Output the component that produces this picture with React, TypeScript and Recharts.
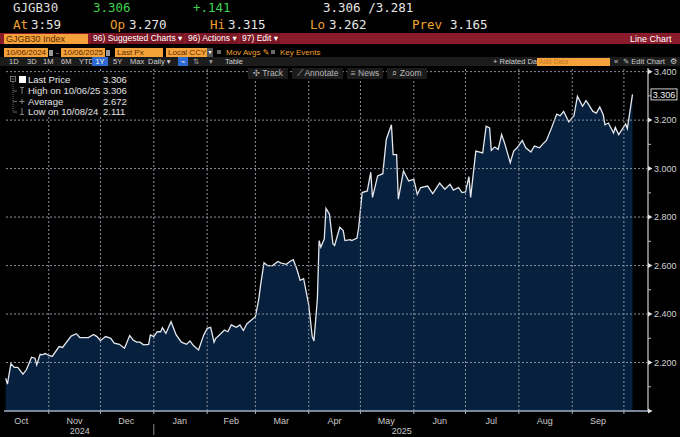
import React from 'react';
import { AreaChart, Area, XAxis, YAxis, ReferenceLine } from 'recharts';

// ---------- data ----------
const START_DATE = '2024-10-07';
// trading days counted from START_DATE
const DAY_OFFSETS = [
  0, 1, 3, 5, 7, 10, 12, 15, 17, 18,
  20, 21, 23, 25, 27, 31, 33, 38, 41, 43,
  48, 51, 53, 55, 58, 61, 63, 66, 69, 72,
  74, 76, 78, 80, 83, 84, 86, 88, 90, 91,
  93, 96, 99, 102, 105, 107, 109, 112, 115, 117,
  119, 121, 122, 125, 127, 129, 131, 133, 134, 136,
  138, 140, 142, 145, 147, 148, 150, 152, 155, 158,
  160, 163, 165, 167, 169, 171, 173, 176, 178, 179,
  181, 182, 183, 185, 186, 188, 190, 191, 194, 196,
  197, 200, 201, 204, 205, 207, 210, 212, 213, 216,
  219, 221, 224, 225, 227, 228, 231, 234, 237, 239,
  241, 245, 248, 252, 255, 258, 260, 263, 265, 267,
  269, 270, 273, 277, 279, 281, 282, 284, 286, 288,
  290, 293, 295, 297, 300, 302, 305, 307, 310, 312,
  314, 317, 320, 322, 324, 327, 330, 332, 335, 337,
  338, 341, 343, 345, 347, 348, 350, 353, 354, 356,
  360, 361, 364,
];
const YIELDS = [
  2.135, 2.111, 2.195, 2.18, 2.18, 2.152, 2.17, 2.222, 2.218, 2.19,
  2.234, 2.232, 2.237, 2.229, 2.225, 2.266, 2.262, 2.309, 2.319, 2.303,
  2.303, 2.316, 2.307, 2.29, 2.307, 2.3, 2.28, 2.275, 2.259, 2.311,
  2.293, 2.284, 2.284, 2.273, 2.275, 2.314, 2.307, 2.327, 2.327, 2.344,
  2.32, 2.368, 2.314, 2.284, 2.275, 2.289, 2.27, 2.252, 2.314, 2.341,
  2.345, 2.284, 2.3, 2.32, 2.334, 2.327, 2.355, 2.348, 2.345, 2.355,
  2.332, 2.359, 2.371, 2.389, 2.464, 2.518, 2.612, 2.6, 2.6, 2.617,
  2.61, 2.605, 2.617, 2.624, 2.587, 2.539, 2.546, 2.437, 2.307, 2.289,
  2.464, 2.703, 2.676, 2.71, 2.836, 2.812, 2.69, 2.683, 2.758, 2.744,
  2.703, 2.707, 2.703, 2.713, 2.758, 2.901, 2.908, 2.985, 2.881, 2.97,
  2.979, 3.12, 3.181, 3.058, 3.058, 2.874, 2.99, 2.949, 2.956, 2.894,
  2.922, 2.928, 2.897, 2.94, 2.915, 2.935, 2.911, 2.922, 2.901, 2.904,
  2.967, 2.881, 3.072, 3.065, 3.175, 3.168, 3.075, 3.089, 3.079, 3.14,
  3.099, 3.024, 3.072, 3.086, 3.116, 3.086, 3.068, 3.093, 3.086, 3.102,
  3.116, 3.168, 3.225, 3.218, 3.236, 3.193, 3.218, 3.298, 3.257, 3.28,
  3.27, 3.236, 3.229, 3.254, 3.222, 3.181, 3.188, 3.147, 3.17, 3.14,
  3.184, 3.165, 3.306,
];

const MONTH_STARTS = [
  '2024-11-01', '2024-12-01', '2025-01-01', '2025-02-01', '2025-03-01', '2025-04-01',
  '2025-05-01', '2025-06-01', '2025-07-01', '2025-08-01', '2025-09-01', '2025-10-01',
];
const MONTH_LABELS = ['Oct', 'Nov', 'Dec', 'Jan', 'Feb', 'Mar', 'Apr', 'May', 'Jun', 'Jul', 'Aug', 'Sep'];
const MONTH_LABEL_DATES = [
  '2024-10-16', '2024-11-16', '2024-12-16', '2025-01-16', '2025-02-15', '2025-03-16',
  '2025-04-16', '2025-05-16', '2025-06-16', '2025-07-16', '2025-08-16', '2025-09-16',
];
const YEAR_LABELS = ['2024', '2025'];
const YEAR_LABEL_DATES = ['2024-11-19', '2025-05-25'];
const X_DOMAIN_DATES = ['2024-10-06', '2025-10-15'];

const Y_DOMAIN = [2.0, 3.415];
const Y_MAJOR = [2.2, 2.4, 2.6, 2.8, 3.0, 3.2, 3.4];
const Y_MINOR = [2.1, 2.3, 2.5, 2.7, 2.9, 3.1, 3.3];
const Y_BASE = 2.0;
const LAST_PRICE = 3.306;

// ---------- helpers ----------
const DAY = 86400000;
const ts = (s: string) => Date.parse(s + 'T00:00:00Z');
const startTs = ts(START_DATE);
const data = DAY_OFFSETS.map((d, i) => ({ t: startTs + d * DAY, v: YIELDS[i] }));

const monthStartTs = MONTH_STARTS.map(ts);
const monthStartSet = new Set(monthStartTs);
const monthLabelMap = new Map(MONTH_LABEL_DATES.map((d, i) => [ts(d), MONTH_LABELS[i]]));
const yearLabelMap = new Map(YEAR_LABEL_DATES.map((d, i) => [ts(d), YEAR_LABELS[i]]));
const xTicks = [...monthStartTs, ...monthLabelMap.keys(), ...yearLabelMap.keys()].sort((a, b) => a - b);
const yTicks = [Y_BASE, ...Y_MINOR, ...Y_MAJOR, LAST_PRICE].sort((a, b) => a - b);
const xDomain = X_DOMAIN_DATES.map(ts);

const mono = "'DejaVu Sans Mono', 'Liberation Mono', monospace";
const sans = "'Liberation Sans', Arial, 'DejaVu Sans', sans-serif";
const GRID = '#8a929e';
const MARGIN = { top: 68, right: 0, bottom: 0, left: 4 };

function XTick(props: any) {
  const { x, y, payload } = props;
  const v = payload.value;
  if (monthStartSet.has(v)) {
    const isJan = new Date(v).getUTCMonth() === 0;
    return (
      <g>
        <line x1={x} x2={x} y1={y} y2={y + 3} stroke="#a8b2c0" strokeWidth={1} />
        {isJan && <line x1={x} x2={x} y1={y + 13} y2={y + 24} stroke="#8a8a8a" strokeWidth={1} />}
      </g>
    );
  }
  if (monthLabelMap.has(v)) {
    return (
      <text x={x} y={y + 12.5} textAnchor="middle" fontSize={9} fontFamily={sans} fill="#c9c9c9">
        {monthLabelMap.get(v)}
      </text>
    );
  }
  if (yearLabelMap.has(v)) {
    return (
      <text x={x} y={y + 22.5} textAnchor="middle" fontSize={9} fontFamily={sans} fill="#c9c9c9">
        {yearLabelMap.get(v)}
      </text>
    );
  }
  return null;
}

function YTick(props: any) {
  const { x, y, payload } = props;
  const v = payload.value as number;
  const isMajor = Y_MAJOR.some((m) => Math.abs(m - v) < 1e-9);
  const isMinor = Y_MINOR.some((m) => Math.abs(m - v) < 1e-9);
  if (Math.abs(v - LAST_PRICE) < 1e-9) {
    return (
      <g>
        <rect x={x + 3} y={y - 5.5} width={26} height={11} fill="#000" stroke="#e6e6e6" strokeWidth={0.9} />
        <text x={x + 16} y={y + 3.2} textAnchor="middle" fontSize={9} fontFamily={sans} fill="#f2f2f2">
          {LAST_PRICE.toFixed(3)}
        </text>
      </g>
    );
  }
  if (isMajor) {
    return (
      <g>
        <polygon points={`${x},${y - 2.5} ${x + 4.5},${y} ${x},${y + 2.5}`} fill="#e0e0e0" />
        <text x={x + 6} y={y + 3.2} fontSize={9} fontFamily={sans} fill="#d2d2d2">
          {v.toFixed(3)}
        </text>
      </g>
    );
  }
  if (isMinor) {
    return <line x1={x} x2={x + 3} y1={y} y2={y} stroke="#bdbdbd" strokeWidth={1} />;
  }
  return <polygon points={`${x},${y - 2.5} ${x + 4.5},${y} ${x},${y + 2.5}`} fill="#e0e0e0" />;
}

function Txt(p: { l: number; t: number; c: string; s: number; f?: string; children: React.ReactNode; w?: number }) {
  return (
    <div
      style={{
        position: 'absolute',
        left: p.l,
        top: p.t,
        color: p.c,
        fontSize: p.s,
        fontFamily: p.f || sans,
        lineHeight: 1,
        whiteSpace: 'pre',
        fontWeight: p.w || 400,
      }}
    >
      {p.children}
    </div>
  );
}

function Box(p: { l: number; t: number; w: number; h: number; bg: string; children?: React.ReactNode; color?: string; s?: number; border?: string; center?: boolean }) {
  return (
    <div
      style={{
        position: 'absolute',
        left: p.l,
        top: p.t,
        width: p.w,
        height: p.h,
        background: p.bg,
        color: p.color || '#fff',
        fontSize: p.s || 8,
        fontFamily: sans,
        lineHeight: p.h + 'px',
        whiteSpace: 'pre',
        paddingLeft: p.center ? 0 : 2,
        boxSizing: 'border-box',
        textAlign: p.center ? 'center' : 'left',
        border: p.border,
      }}
    >
      {p.children}
    </div>
  );
}

const ORANGE = '#f5a23a';
const ORANGE_TXT = '#f0a030';
const BOX_TXT = '#5a2a00';
const RED = '#8a1b2b';
const GREEN = '#3fd253';
const WHITE = '#e6e6e6';

export default function App() {
  return (
    <div style={{ position: 'fixed', left: 0, top: 0, width: 680, height: 437, background: '#000', overflow: 'hidden' }}>
      {/* base chart: filled area + axes */}
      <div style={{ position: 'absolute', left: 0, top: 0 }}>
        <AreaChart width={680} height={437} data={data} margin={MARGIN}>
          <XAxis
            dataKey="t"
            type="number"
            domain={xDomain}
            ticks={xTicks}
            interval={0}
            tick={<XTick />}
            tickLine={false}
            tickSize={0}
            tickMargin={0}
            height={26}
            axisLine={{ stroke: '#9fb0c6', strokeWidth: 1.5 }}
            allowDataOverflow
          />
          <YAxis
            orientation="right"
            type="number"
            domain={Y_DOMAIN}
            ticks={yTicks}
            interval={0}
            tick={<YTick />}
            tickLine={false}
            tickSize={0}
            tickMargin={0}
            width={32}
            axisLine={{ stroke: '#cfcfcf', strokeWidth: 1.2 }}
            allowDataOverflow
          />
          <Area
            type="linear"
            dataKey="v"
            stroke="none"
            fill="#07203e"
            fillOpacity={1}
            dot={false}
            activeDot={false}
            isAnimationActive={false}
          />
        </AreaChart>
      </div>

      {/* overlay chart: dotted grid above the fill, plus the price line */}
      <div style={{ position: 'absolute', left: 0, top: 0 }}>
        <AreaChart width={680} height={437} data={data} margin={MARGIN}>
          <XAxis
            dataKey="t"
            type="number"
            domain={xDomain}
            ticks={xTicks}
            interval={0}
            tick={false}
            tickLine={false}
            tickSize={0}
            axisLine={false}
            height={26}
            allowDataOverflow
          />
          <YAxis
            orientation="right"
            type="number"
            domain={Y_DOMAIN}
            ticks={yTicks}
            interval={0}
            tick={false}
            tickLine={false}
            tickSize={0}
            axisLine={false}
            width={32}
            allowDataOverflow
          />
          {monthStartTs.map((t) => (
            <ReferenceLine key={'v' + t} x={t} stroke={GRID} strokeDasharray="2 2" strokeWidth={1} ifOverflow="visible" />
          ))}
          {Y_MAJOR.map((y) => (
            <ReferenceLine key={'h' + y} y={y} stroke={GRID} strokeDasharray="2 2" strokeWidth={1} ifOverflow="visible" />
          ))}
          <Area
            type="linear"
            dataKey="v"
            stroke="#e4e7ec"
            strokeWidth={1.3}
            fill="none"
            fillOpacity={0}
            dot={false}
            activeDot={false}
            isAnimationActive={false}
          />
        </AreaChart>
      </div>

      {/* Row 1 */}
      <Txt l={13} t={2} c="#dedede" s={12.5} f={mono}>GJGB30</Txt>
      <Txt l={93} t={2} c={GREEN} s={12.5} f={mono}>3.306</Txt>
      <Txt l={193} t={2} c={GREEN} s={12.5} f={mono}>+.141</Txt>
      <Txt l={323} t={2} c={WHITE} s={12.5} f={mono}>3.306 /3.281</Txt>
      {/* Row 2 */}
      <Txt l={13} t={19} c={ORANGE_TXT} s={12.5} f={mono}>At</Txt>
      <Txt l={31} t={19} c={WHITE} s={12.5} f={mono}>3:59</Txt>
      <Txt l={110} t={19} c={ORANGE_TXT} s={12.5} f={mono}>Op</Txt>
      <Txt l={129} t={19} c={WHITE} s={12.5} f={mono}>3.270</Txt>
      <Txt l={210} t={19} c={ORANGE_TXT} s={12.5} f={mono}>Hi</Txt>
      <Txt l={228} t={19} c={WHITE} s={12.5} f={mono}>3.315</Txt>
      <Txt l={310} t={19} c={ORANGE_TXT} s={12.5} f={mono}>Lo</Txt>
      <Txt l={329} t={19} c={WHITE} s={12.5} f={mono}>3.262</Txt>
      <Txt l={412} t={19} c={ORANGE_TXT} s={12.5} f={mono}>Prev</Txt>
      <Txt l={450} t={19} c={WHITE} s={12.5} f={mono}>3.165</Txt>

      {/* Red bar */}
      <div style={{ position: 'absolute', left: 0, top: 33, width: 680, height: 11, background: RED }} />
      <Box l={4} t={34} w={84} h={10} bg={ORANGE} color={BOX_TXT} s={9}>GJGB30 Index</Box>
      <Box l={91} t={33} w={93} h={11} bg="#7a1524" s={8.5}>96) Suggested Charts ▾</Box>
      <Box l={186} t={33} w={52} h={11} bg="#7a1524" s={8.5}>96) Actions ▾</Box>
      <Box l={240} t={33} w={40} h={11} bg="#7a1524" s={8.5}>97) Edit ▾</Box>
      <Txt l={630} t={34.5} c="#fff" s={9}>Line Chart</Txt>

      {/* Row 4 */}
      <Box l={4} t={48} w={44} h={9} bg={ORANGE} color={BOX_TXT} s={8}>10/06/2024</Box>
      <Box l={49} t={49.5} w={4} h={6} bg="#9a9a9a" />
      <Txt l={56} t={48.5} c="#ccc" s={8}>-</Txt>
      <Box l={61} t={48} w={44} h={9} bg={ORANGE} color={BOX_TXT} s={8}>10/06/2025</Box>
      <Box l={106} t={49.5} w={4} h={6} bg="#9a9a9a" />
      <Box l={115} t={48} w={48} h={9} bg={ORANGE} color={BOX_TXT} s={8}>Last Px</Box>
      <Box l={166} t={48} w={41} h={9} bg={ORANGE} color={BOX_TXT} s={8}>Local CCY</Box>
      <Box l={207} t={48} w={6} h={9} bg="#555" s={6} center>▾</Box>
      <Box l={217} t={50} w={4} h={4} bg="#6a6a6a" />
      <Txt l={226} t={49} c={ORANGE_TXT} s={8}>Mov Avgs ✎</Txt>
      <Box l={271} t={50} w={4} h={4} bg="#6a6a6a" />
      <Txt l={280} t={49} c={ORANGE_TXT} s={8}>Key Events</Txt>

      {/* Row 5 */}
      <div style={{ position: 'absolute', left: 0, top: 57, width: 680, height: 9, background: '#1c1c1c' }} />
      <Txt l={9} t={58} c="#cfcfcf" s={7.5}>1D</Txt>
      <Txt l={27} t={58} c="#cfcfcf" s={7.5}>3D</Txt>
      <Txt l={43} t={58} c="#cfcfcf" s={7.5}>1M</Txt>
      <Txt l={61} t={58} c="#cfcfcf" s={7.5}>6M</Txt>
      <Txt l={79} t={58} c="#cfcfcf" s={7.5}>YTD</Txt>
      <Box l={92} t={57} w={16} h={9} bg="#2f6ad0" s={7.5} center>1Y</Box>
      <Txt l={113} t={58} c="#cfcfcf" s={7.5}>5Y</Txt>
      <Txt l={130} t={58} c="#cfcfcf" s={7.5}>Max</Txt>
      <Txt l={148} t={58} c="#cfcfcf" s={7.5}>Daily ▾</Txt>
      <Box l={178} t={57} w={10} h={9} bg="#2f6ad0" s={7} center>⌁</Box>
      <Txt l={193} t={58} c="#9a9a9a" s={7.5}>⇅</Txt>
      <Txt l={209} t={58} c="#9a9a9a" s={7.5}>▾</Txt>
      <Txt l={225} t={58} c="#cfcfcf" s={7.5}>Table</Txt>
      <Txt l={493} t={58} c="#cfcfcf" s={7.5}>+ Related Dat</Txt>
      <Box l={537} t={57.5} w={73} h={8} bg={ORANGE} color="#c77a20" s={7}>Add Data</Box>
      <Txt l={614} t={58} c="#cfcfcf" s={7.5}>«</Txt>
      <Txt l={623} t={58} c="#cfcfcf" s={7.5}>✎ Edit Chart</Txt>
      <Txt l={670} t={57.5} c="#cfcfcf" s={8}>⚙</Txt>

      {/* Chart toolbar */}
      <Box l={248} t={68} w={40} h={11} bg="#1b1b1b" color="#b8b8b8" s={8.5} center>✣ Track</Box>
      <Box l={292} t={68} w={51} h={11} bg="#1b1b1b" color="#b8b8b8" s={8.5} center>⟋ Annotate</Box>
      <Box l={347} t={68} w={36} h={11} bg="#1b1b1b" color="#b8b8b8" s={8.5} center>≡ News</Box>
      <Box l={387} t={68} w={40} h={11} bg="#1b1b1b" color="#b8b8b8" s={8.5} center>⌕ Zoom</Box>

      {/* Legend */}
      <div style={{ position: 'absolute', left: 9, top: 73, width: 121, height: 44, background: '#050505' }}>
        <svg width={121} height={44} style={{ position: 'absolute', left: 0, top: 0 }}>
          <rect x={1.5} y={3.5} width={5} height={5} fill="none" stroke="#8a8a8a" strokeWidth={0.8} />
          <line x1={2.5} x2={5.5} y1={6} y2={6} stroke="#8a8a8a" strokeWidth={0.8} />
          <rect x={10} y={3} width={7} height={7} fill="#fff" />
          <line x1={4} x2={4} y1={9} y2={39} stroke="#7a7a7a" strokeWidth={0.8} strokeDasharray="1 1" />
          <line x1={4} x2={8} y1={18} y2={18} stroke="#7a7a7a" strokeWidth={0.8} />
          <line x1={4} x2={8} y1={28.5} y2={28.5} stroke="#7a7a7a" strokeWidth={0.8} />
          <line x1={4} x2={8} y1={39} y2={39} stroke="#7a7a7a" strokeWidth={0.8} />
          <line x1={11} x2={15} y1={14.5} y2={14.5} stroke="#9a9a9a" strokeWidth={0.8} />
          <line x1={13} x2={13} y1={14.5} y2={21} stroke="#9a9a9a" strokeWidth={0.8} />
          <line x1={10.5} x2={15.5} y1={28.5} y2={28.5} stroke="#9a9a9a" strokeWidth={0.8} />
          <line x1={13} x2={13} y1={26} y2={31} stroke="#9a9a9a" strokeWidth={0.8} />
          <line x1={13} x2={13} y1={35} y2={41.5} stroke="#9a9a9a" strokeWidth={0.8} />
          <line x1={11} x2={15} y1={41.5} y2={41.5} stroke="#9a9a9a" strokeWidth={0.8} />
        </svg>
        <Txt l={19} t={2} c="#e8e8e8" s={9.5}>Last Price</Txt>
        <Txt l={94} t={2} c="#e8e8e8" s={9.5}>3.306</Txt>
        <Txt l={19} t={13} c="#e0e0e0" s={9.5}>High on 10/06/25</Txt>
        <Txt l={94} t={13} c="#e0e0e0" s={9.5}>3.306</Txt>
        <Txt l={19} t={23.5} c="#e0e0e0" s={9.5}>Average</Txt>
        <Txt l={94} t={23.5} c="#e0e0e0" s={9.5}>2.672</Txt>
        <Txt l={19} t={34} c="#e0e0e0" s={9.5}>Low on 10/08/24</Txt>
        <Txt l={94} t={34} c="#e0e0e0" s={9.5}>2.111</Txt>
      </div>
    </div>
  );
}
